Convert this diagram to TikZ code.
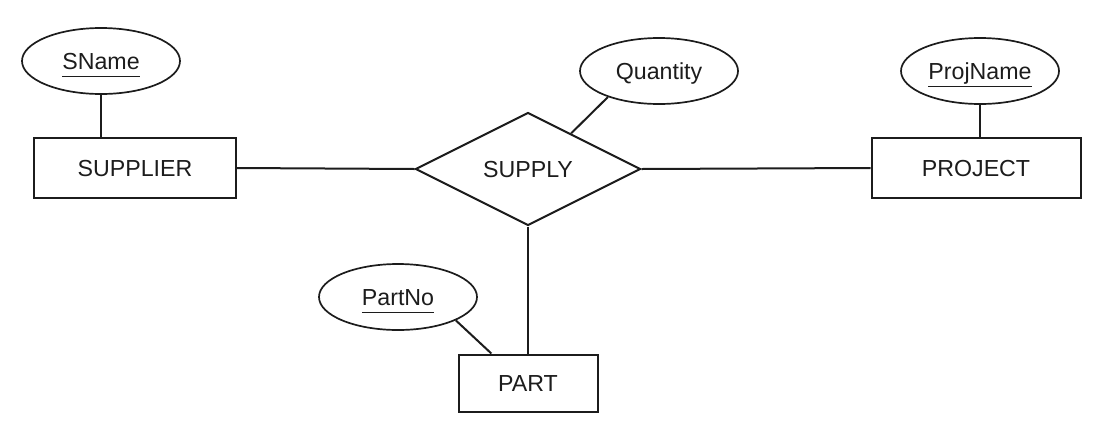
\documentclass[tikz,border=0pt]{standalone}
\usepackage{fontspec}
\setmainfont{Liberation Sans}
\usetikzlibrary{shapes.geometric,calc}
\definecolor{ink}{HTML}{1C1C1C}
\newcommand{\keyattr}[1]{\setbox0\hbox{#1}\rlap{\smash{\rule[-4pt]{\wd0}{0.85pt}}}\box0}
\tikzset{
    entity/.style={
        rectangle,
        draw=ink,
        line width=1pt,
        text=ink,
        font=\fontsize{11.6}{13}\selectfont,
        text height=8.4pt,
        text depth=0pt,
        inner sep=0pt
    },
    relation/.style={
        diamond,
        aspect=2,
        draw=ink,
        line width=1pt,
        text=ink,
        font=\fontsize{11.6}{13}\selectfont,
        text height=8.4pt,
        text depth=0pt,
        inner sep=0pt,
        minimum width=112.5pt,
        minimum height=56.5pt
    },
    attribute/.style={
        ellipse,
        draw=ink,
        line width=0.85pt,
        text=ink,
        font=\fontsize{11.6}{13}\selectfont,
        text height=8.4pt,
        text depth=0pt,
        inner sep=0pt,
        minimum width=79pt,
        minimum height=33pt
    },
    link/.style={
        draw=ink,
        line width=1pt
    }
}

\begin{document}
\begin{tikzpicture}[x=0.5pt,y=-0.5pt]
    \useasboundingbox (0,0) rectangle (1111,429);

    % Entities
    \node[entity, minimum width=101pt, minimum height=30pt] (supplier) at (135,168) {SUPPLIER};
    \node[entity, minimum width=104.5pt, minimum height=30pt] (project) at (976,168) {PROJECT};
    \node[entity, minimum width=69.5pt, minimum height=28.5pt] (part) at (528,383) {PART};

    % Relationship
    \node[relation] (supply) at (528,169) {SUPPLY};

    % Attributes
    \node[attribute] (sname) at (101,61) {\keyattr{SName}};
    \node[attribute] (quantity) at (659,71) {Quantity};
    \node[attribute] (projname) at (980,71) {\keyattr{ProjName}};
    \node[attribute] (partno) at (398,297) {\keyattr{PartNo}};

    % Attachment points
    \coordinate (qfoot) at ($(supply.north)!0.38!(supply.east)$);
    \coordinate (pfoot) at ($(part.north west)!0.24!(part.north east)$);

    % Connectors
    \draw[link] (supplier.east) -- (supply.west);
    \draw[link] (supply.east) -- (project.west);
    \draw[link] (supply.south) -- (part.north);
    \draw[link] (sname.south) -- (sname.south |- supplier.north);
    \draw[link] (projname.south) -- (projname.south |- project.north);
    \draw[link] (quantity.207) -- (qfoot);
    \draw[link] (partno.-22) -- (pfoot);

\end{tikzpicture}
\end{document}
